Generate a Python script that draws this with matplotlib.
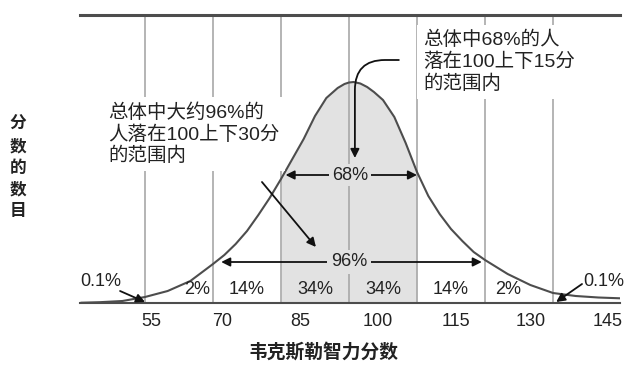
import numpy as np
import matplotlib
matplotlib.use("Agg")
import matplotlib.pyplot as plt

plt.rcParams['font.family'] = ['Liberation Sans', 'Noto Sans CJK SC', 'DejaVu Sans']

# curve (height of the curve above the baseline)
iq = [41, 45, 50, 55, 60, 65, 70, 72.5, 75, 77.5, 80, 82.5, 85, 87.5, 90, 92.5,
      95, 97.5, 99, 100, 101, 102.5, 104, 105.5, 107.5, 110, 112.5, 115, 117.5,
      120, 122.5, 125, 127.5, 130, 135, 140, 145, 150, 155, 159.8]
height = [0.3, 0.8, 2, 6, 12, 22, 39, 48, 59, 72, 88, 105, 124, 144, 164, 187,
          205, 215, 219, 220.5, 221, 219.5, 216, 211, 203, 186, 160, 131, 107,
          89, 74, 62, 51, 43, 29, 18, 10, 7, 5.5, 4.7]

bounds = [55, 70, 85, 100, 115, 130, 145]
tick_pos = [56.5, 72.0, 89.2, 106.4, 123.6, 140.1, 157.1]
tick_labels = ['55', '70', '85', '100', '115', '130', '145']

band_pos = [66.5, 77.5, 92.5, 107.5, 122.5, 135.0]
band_labels = ['2%', '14%', '34%', '34%', '14%', '2%']

x = np.array(iq)
y = np.array(height)

fig = plt.figure(figsize=(6.4, 3.67), dpi=100)
ax = fig.add_axes([80 / 640, 64 / 367, 540 / 640, 288 / 367])
ax.set_xlim(40.66, 159.78)
ax.set_ylim(0, 288)

dark = '#4d4d4d'
ax.spines['left'].set_visible(False)
ax.spines['right'].set_visible(False)
ax.spines['top'].set_linewidth(2.2)
ax.spines['top'].set_color(dark)
ax.spines['bottom'].set_linewidth(1.5)
ax.spines['bottom'].set_color(dark)
ax.set_yticks([])

ax.fill_between(x, y, where=(x >= 85) & (x <= 115), color='#e2e2e2', lw=0, zorder=1)
ax.vlines(bounds, 0, 288, color='#a8a8a8', lw=1.2, zorder=2)
ax.plot(x, y, color=dark, lw=1.5, zorder=3, solid_joinstyle='round')

ax.set_xticks(tick_pos, tick_labels)
ax.tick_params(axis='x', length=0, pad=7, labelsize=13, colors='#222222')

for p, t in zip(band_pos, band_labels):
    ax.text(p, 13, t, ha='center', va='center', fontsize=13, color='#222222', zorder=5)

arrow = dict(arrowstyle='-|>', color='#111111', lw=1.3, mutation_scale=13,
             shrinkA=0, shrinkB=0)

# 68% span
ax.annotate('', xy=(86, 128), xytext=(100, 128), arrowprops=arrow, zorder=6)
ax.annotate('', xy=(115, 128), xytext=(100, 128), arrowprops=arrow, zorder=6)
ax.text(100.2, 128, '68%', ha='center', va='center', fontsize=13, color='#222222', zorder=7,
        bbox=dict(boxstyle='square,pad=0.15', fc='#e2e2e2', ec='none'))

# 96% span
ax.annotate('', xy=(71.8, 41), xytext=(100, 41), arrowprops=arrow, zorder=6)
ax.annotate('', xy=(129.3, 41), xytext=(100, 41), arrowprops=arrow, zorder=6)
ax.text(100, 41, '96%', ha='center', va='center', fontsize=13, color='#222222', zorder=7,
        bbox=dict(boxstyle='square,pad=0.2', fc='#e2e2e2', ec='none'))

# 0.1% tails
ax.text(45.3, 22, '0.1%', ha='center', va='center', fontsize=13, color='#222222', zorder=7)
ax.annotate('', xy=(55, 1), xytext=(49.5, 12), arrowprops=arrow, zorder=6)
ax.text(156.2, 22, '0.1%', ha='center', va='center', fontsize=13, color='#222222', zorder=7)
ax.annotate('', xy=(145.7, 1), xytext=(151.4, 19), arrowprops=arrow, zorder=6)

# notes
note = dict(ha='left', va='top', fontsize=14, fontweight='medium', linespacing=1.25,
            color='#222222', zorder=7,
            bbox=dict(boxstyle='square,pad=0.3', fc='white', ec='none'))
ax.text(46.84, 200, '总体中大约96%的\n人落在100上下30分\n的范围内', **note)
ax.annotate('', xy=(92.7, 56), xytext=(80.8, 121), arrowprops=arrow, zorder=6)

ax.text(116.3, 272, '总体中68%的人\n落在100上下15分\n的范围内', **note)
ax.annotate('', xy=(101.3, 145), xytext=(111, 243), zorder=6,
            arrowprops=dict(arrowstyle='-|>', color='#111111', lw=1.3, mutation_scale=13,
                            shrinkA=0, shrinkB=0,
                            connectionstyle='angle,angleA=0,angleB=90,rad=30'))

ax.set_xlabel('韦克斯勒智力分数', fontsize=13.5, fontweight='bold', color='#222222', va='center')
ax.xaxis.set_label_coords(0.45, -0.17)
ax.set_ylabel('分\n数\n的\n数\n目', rotation=0, fontsize=12, fontweight='bold',
              color='#222222', ha='center', va='center', linespacing=1.5)
ax.yaxis.set_label_coords(-0.115, 0.469)

fig.savefig('out.png', dpi=100)
